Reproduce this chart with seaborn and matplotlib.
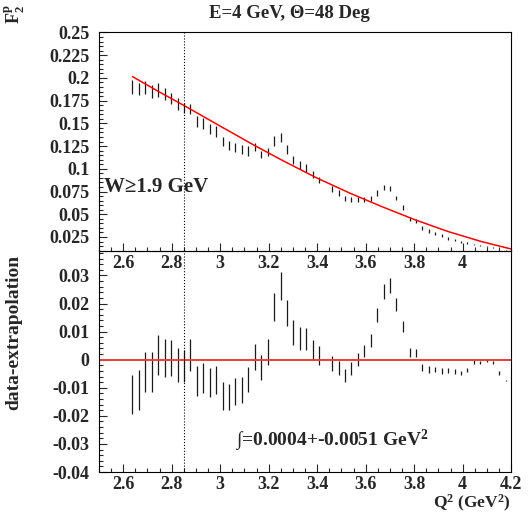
import numpy as np
import pandas as pd
import matplotlib
matplotlib.use("Agg")
import matplotlib.pyplot as plt
from matplotlib.ticker import MultipleLocator, FormatStrFormatter, FixedLocator
import seaborn as sns

# Q^2 bin centres (GeV^2)
q2 = [2.638, 2.665, 2.691, 2.718, 2.744, 2.771, 2.797, 2.824, 2.851, 2.877,
      2.904, 2.930, 2.957, 2.983, 3.010, 3.037, 3.063, 3.090, 3.116, 3.143,
      3.169, 3.196, 3.223, 3.249, 3.276, 3.302, 3.329, 3.355, 3.382, 3.409,
      3.435, 3.462, 3.488, 3.515, 3.541, 3.568, 3.595, 3.621, 3.648, 3.674,
      3.701, 3.727, 3.754, 3.781, 3.807, 3.834, 3.860, 3.887, 3.913, 3.940,
      3.967, 3.993, 4.020, 4.046, 4.073, 4.099, 4.126, 4.152, 4.179]

# F2 data and errors
f2 = [0.1900, 0.1875, 0.1895, 0.1854, 0.1869, 0.1820, 0.1773, 0.1713, 0.1669, 0.1658,
      0.1525, 0.1500, 0.1438, 0.1413, 0.1302, 0.1254, 0.1238, 0.1211, 0.1197, 0.1244,
      0.1158, 0.1184, 0.1306, 0.1345, 0.1213, 0.1097, 0.1042, 0.1009, 0.0935, 0.0877,
      np.nan, 0.0779, 0.0734, 0.0677, 0.0665, 0.0665, 0.0662, 0.0670, 0.0733, 0.0794,
      0.0783, 0.0680, 0.0572, 0.0450, 0.0426, 0.0347, 0.0316, 0.0288, 0.0263, 0.0237,
      0.0218, 0.0196, 0.0182, 0.0170, 0.0158, 0.0148, 0.0135, 0.0118, 0.0100]
f2_err = [0.0074, 0.0068, 0.0073, 0.0070, 0.0074, 0.0068, 0.0062, 0.0065, 0.0060, 0.0057,
          0.0061, 0.0057, 0.0057, 0.0059, 0.0051, 0.0050, 0.0050, 0.0051, 0.0051, 0.0044,
          0.0042, 0.0042, 0.0055, 0.0053, 0.0050, 0.0044, 0.0044, 0.0044, 0.0040, 0.0037,
          np.nan, 0.0031, 0.0030, 0.0028, 0.0028, 0.0027, 0.0026, 0.0027, 0.0030, 0.0028,
          0.0028, 0.0024, 0.0026, 0.0022, 0.0020, 0.0022, 0.0017, 0.0015, 0.0015, 0.0015,
          0.0011, 0.0011, 0.0009, 0.0008, 0.0007, 0.0006, 0.0005, 0.0005, 0.0003]

# extrapolation curve
fit_q2 = [2.638, 2.744, 2.855, 3.000, 3.143, 3.262, 3.398, 3.537, 3.666, 3.803, 3.940, 4.077, 4.200]
fit_f2 = [0.2015, 0.1853, 0.1690, 0.1470, 0.1255, 0.1085, 0.0900, 0.0730, 0.0585, 0.0440, 0.0310, 0.0200, 0.0118]

# data - extrapolation
resid = [-0.0123, -0.0108, -0.0045, -0.0044, 0.0017, 0.0005, 0.0006, -0.0020, -0.0022, 0.0015,
         -0.0076, -0.0066, -0.0082, -0.0073, -0.0129, -0.0132, -0.0113, -0.0107, -0.0071, 0.0010,
         -0.0028, 0.0027, 0.0188, 0.0262, 0.0167, 0.0096, 0.0075, 0.0072, 0.0035, 0.0014,
         np.nan, -0.0013, -0.0031, -0.0055, -0.0031, -0.0001, 0.0031, 0.0067, 0.0159, 0.0243,
         0.0264, 0.0196, 0.0117, 0.0026, 0.0024, -0.0028, -0.0035, -0.0035, -0.0040, -0.0040,
         -0.0041, -0.0046, -0.0037, -0.0007, -0.0011, -0.0003, -0.0009, -0.0047, -0.0074]
resid_err = [0.0070, 0.0070, 0.0071, 0.0070, 0.0070, 0.0067, 0.0063, 0.0061, 0.0058, 0.0057,
             0.0055, 0.0053, 0.0052, 0.0051, 0.0049, 0.0047, 0.0047, 0.0046, 0.0045, 0.0045,
             0.0043, 0.0045, 0.0050, 0.0050, 0.0047, 0.0045, 0.0040, 0.0039, 0.0036, 0.0034,
             np.nan, 0.0026, 0.0025, 0.0023, 0.0023, 0.0023, 0.0023, 0.0023, 0.0025, 0.0026,
             0.0028, 0.0024, 0.0020, 0.0017, 0.0015, 0.0014, 0.0011, 0.0010, 0.0010, 0.0009,
             0.0009, 0.0007, 0.0007, 0.0007, 0.0006, 0.0006, 0.0005, 0.0006, 0.0003]

w_cut_q2 = 2.85

df = pd.DataFrame({"q2": q2, "f2": f2, "f2_err": f2_err, "resid": resid, "resid_err": resid_err})
fit = pd.DataFrame({"q2": fit_q2, "f2": fit_f2})

sns.set_style("ticks")
plt.rcParams["font.family"] = ["Liberation Serif", "DejaVu Serif"]
plt.rcParams["font.weight"] = "bold"
plt.rcParams["mathtext.fontset"] = "custom"
plt.rcParams["mathtext.rm"] = "Liberation Serif:bold"
plt.rcParams["mathtext.bf"] = "Liberation Serif:bold"
plt.rcParams["mathtext.it"] = "Liberation Serif:bold"

fig = plt.figure(figsize=(5.28, 5.14), dpi=100)
ax2 = fig.add_axes([0.1875, 0.0817, 0.7805, 0.430])
ax1 = fig.add_axes([0.1875, 0.5117, 0.7805, 0.426])
ax1.patch.set_alpha(0)
ax2.patch.set_alpha(0)

# top panel
ax1.errorbar(df["q2"], df["f2"], yerr=df["f2_err"], fmt="none",
             ecolor="#1a1a1a", elinewidth=0.9)
sns.lineplot(data=fit, x="q2", y="f2", ax=ax1, color="red", linewidth=1.1, legend=False)
ax1.axvline(w_cut_q2, color="black", linestyle=":", linewidth=0.8)
ax1.set_xlim(2.5, 4.2)
ax1.set_ylim(0.0096, 0.2505)
ax1.xaxis.set_major_locator(FixedLocator([2.6, 2.8, 3.0, 3.2, 3.4, 3.6, 3.8, 4.0]))
ax1.yaxis.set_major_locator(MultipleLocator(0.025))
ax1.yaxis.set_minor_locator(MultipleLocator(0.005))
ax1.text(2.52, 0.0805, "W\u22651.9 GeV", fontsize=15, fontweight="bold", ha="left", va="center")

# bottom panel
ax2.errorbar(df["q2"], df["resid"], yerr=df["resid_err"], fmt="none",
             ecolor="#1a1a1a", elinewidth=0.9)
ax2.axhline(0, color="#f03c3c", linewidth=1.4)
ax2.axvline(w_cut_q2, color="black", linestyle=":", linewidth=0.8)
ax2.set_xlim(2.5, 4.2)
ax2.set_ylim(-0.04, 0.0387)
ax2.xaxis.set_major_locator(FixedLocator([2.6, 2.8, 3.0, 3.2, 3.4, 3.6, 3.8, 4.0, 4.2]))
ax2.yaxis.set_major_locator(MultipleLocator(0.01))
ax2.yaxis.set_minor_locator(MultipleLocator(0.002))
ax2.text(3.062, -0.0306, "\u222b=0.0004+-0.0051 GeV$^{2}$", fontsize=14,
         fontweight="bold", ha="left", va="baseline")

for ax in (ax1, ax2):
    ax.set_xlabel("")
    ax.set_ylabel("")
    ax.xaxis.set_minor_locator(MultipleLocator(0.05))
    ax.xaxis.set_major_formatter(FormatStrFormatter("%g"))
    ax.yaxis.set_major_formatter(FormatStrFormatter("%g"))
    ax.tick_params(which="both", direction="in", top=False, right=False,
                   width=0.8, labelsize=13)
    ax.tick_params(which="major", length=6)
    ax.tick_params(which="minor", length=3)
    ax.tick_params(axis="y", pad=7)
    ax.tick_params(axis="x", pad=3)
    for sp in ax.spines.values():
        sp.set_visible(True)
        sp.set_linewidth(0.8)
        sp.set_color("black")
    for lab in ax.get_xticklabels() + ax.get_yticklabels():
        lab.set_fontweight("bold")

fig.text(0.548, 1 - 13 / 514, "E=4 GeV, \u0398=48 Deg", fontsize=13.5,
         fontweight="bold", ha="center", va="center")
fig.text(15 / 528, 1 - 4 / 514, "F$_{2}^{p}$", fontsize=13, fontweight="bold",
         rotation=90, ha="center", va="top")
fig.text(14 / 528, 1 - 255 / 514, "data-extrapolation", fontsize=14, fontweight="bold",
         rotation=90, ha="center", va="top")
fig.text(511 / 528, 1 - 493 / 514, "Q$^{2}$ (GeV$^{2}$)", fontsize=12.5, fontweight="bold",
         ha="right", va="top")

fig.savefig("out.png", dpi=100)
